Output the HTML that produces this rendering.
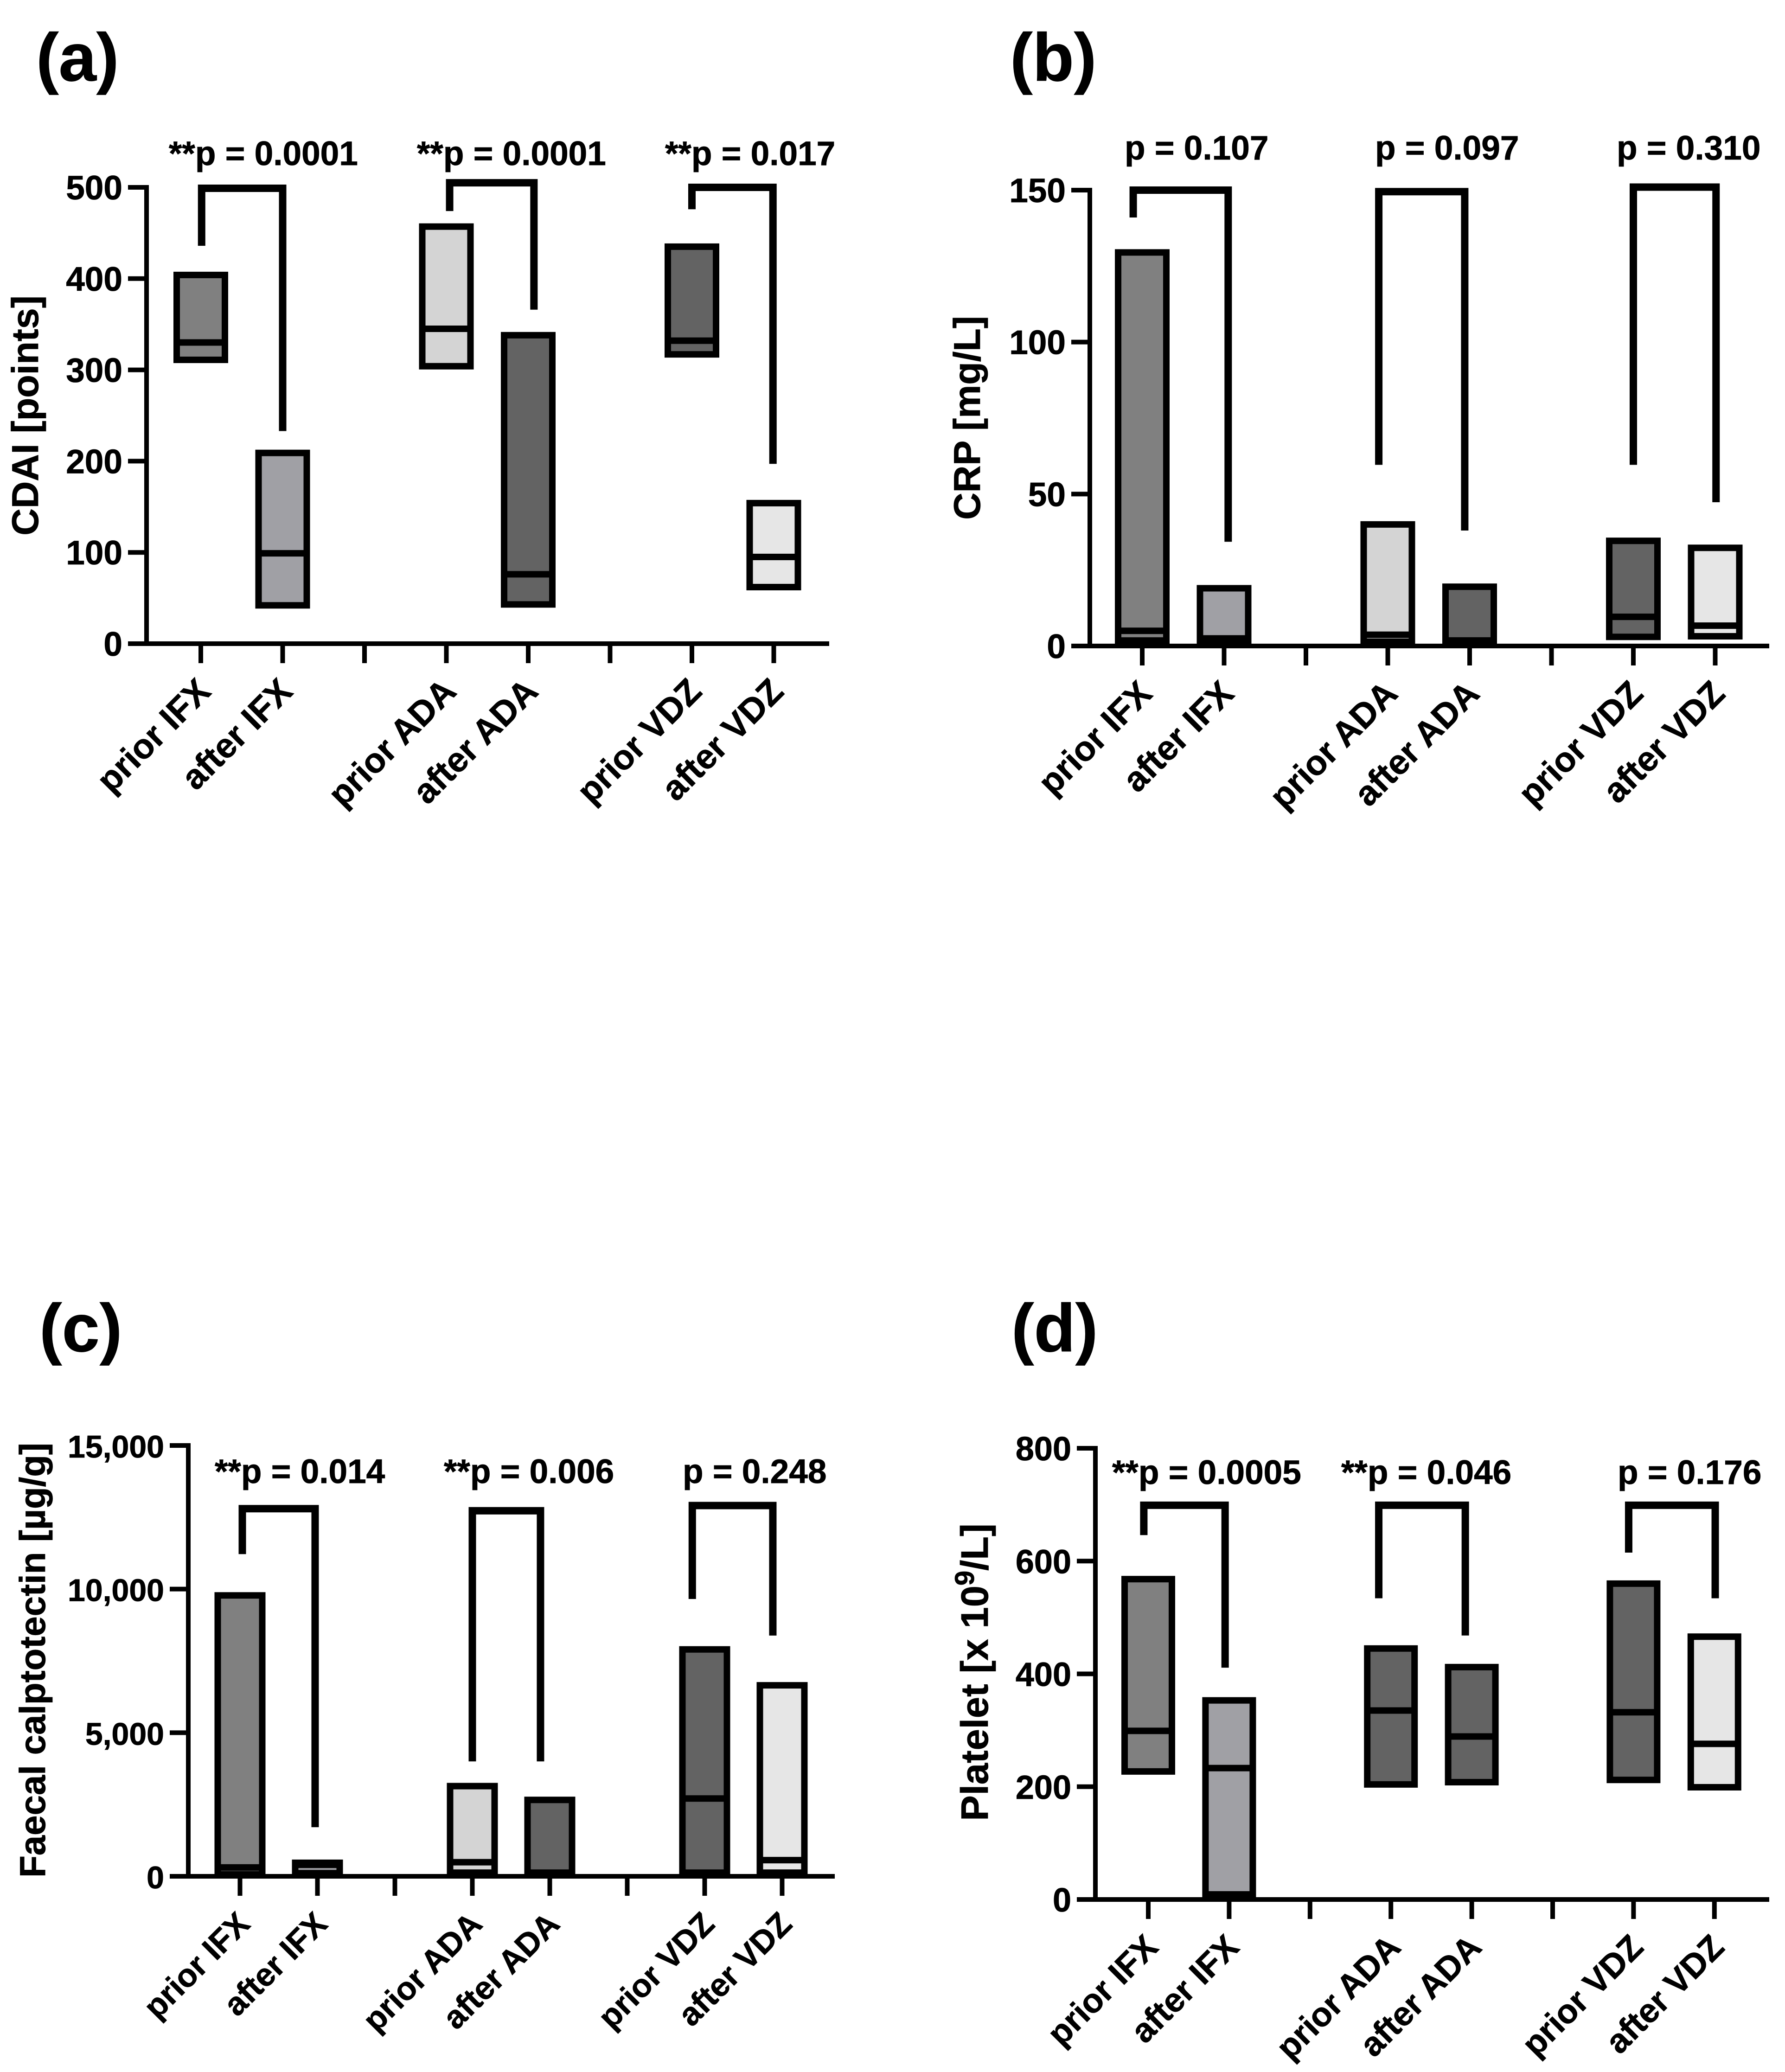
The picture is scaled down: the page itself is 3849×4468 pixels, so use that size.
<!DOCTYPE html>
<html lang="en">
<head>
<meta charset="utf-8">
<title>Clinical markers before and after biologic therapy</title>
<style>
html,body{margin:0;padding:0;background:#fff;}
svg{display:block;}
text{font-family:"Liberation Sans",Arial,sans-serif;font-weight:700;fill:#000;stroke:#000;stroke-width:0.8px;}
</style>
</head>
<body>
<svg id="figure" xmlns="http://www.w3.org/2000/svg" width="3849" height="4468" viewBox="0 0 3849 4468"></svg>
<script>
// Shared categories (index 2 and 5 are empty spacer ticks)
const categories = ['prior IFX', 'after IFX', '', 'prior ADA', 'after ADA', '', 'prior VDZ', 'after VDZ'];
const seriesSlots = [0, 1, 3, 4, 6, 7];

// Panel (a) CDAI
const cdaiMin = [311, 42, 304, 43, 317, 62];
const cdaiMedian = [330, 99, 345, 76, 332, 95];
const cdaiMax = [404, 209, 457, 338, 435, 154];
const cdaiTicks = [0, 100, 200, 300, 400, 500];
const cdaiTickLabels = ['0', '100', '200', '300', '400', '500'];
const cdaiBracketTop = [499, 505, 500];
const cdaiBracketLeftEnd = [436, 474, 476];
const cdaiBracketRightEnd = [233, 366, 197];
const cdaiPValues = ['**p = 0.0001', '**p = 0.0001', '**p = 0.017'];

// Panel (b) CRP
const crpMin = [1.8, 1.8, 1.4, 1.8, 3, 3.2];
const crpMedian = [5, 2.5, 3.7, 1.8, 9.6, 6.7];
const crpMax = [129.5, 19, 40, 19.5, 34.6, 32.3];
const crpTicks = [0, 50, 100, 150];
const crpTickLabels = ['0', '50', '100', '150'];
const crpBracketTop = [150, 149.5, 151];
const crpBracketLeftEnd = [141, 59.6, 59.6];
const crpBracketRightEnd = [34.3, 38, 47.3];
const crpPValues = ['p = 0.107', 'p = 0.097', 'p = 0.310'];

// Panel (c) Faecal calprotectin
const calMin = [70, 109, 127, 127, 127, 127];
const calMedian = [309, 400, 490, 109, 2709, 564];
const calMax = [9780, 470, 3140, 2660, 7900, 6650];
const calTicks = [0, 5000, 10000, 15000];
const calTickLabels = ['0', '5,000', '10,000', '15,000'];
const calBracketTop = [12800, 12727, 12909];
const calBracketLeftEnd = [11218, 4000, 9655];
const calBracketRightEnd = [1709, 4000, 8382];
const calPValues = ['**p = 0.014', '**p = 0.006', 'p = 0.248'];

// Panel (d) Platelet
const pltMin = [227, 9, 204, 208, 212, 199];
const pltMedian = [299, 233, 335, 289, 332, 276];
const pltMax = [568, 353, 445, 412, 560, 466];
const pltTicks = [0, 200, 400, 600, 800];
const pltTickLabels = ['0', '200', '400', '600', '800'];
const pltBracketTop = [699, 699, 699];
const pltBracketLeftEnd = [646, 534, 615];
const pltBracketRightEnd = [411, 468, 534];
const pltPValues = ['**p = 0.0005', '**p = 0.046', 'p = 0.176'];

const SVG_NS = 'http://www.w3.org/2000/svg';
const figure = document.getElementById('figure');

function make(tag, parent) {
  const el = document.createElementNS(SVG_NS, tag);
  parent.appendChild(el);
  return el;
}
function drawLine(parent, x1, y1, x2, y2, width) {
  const el = make('line', parent);
  el.setAttribute('x1', x1);
  el.setAttribute('y1', y1);
  el.setAttribute('x2', x2);
  el.setAttribute('y2', y2);
  el.setAttribute('stroke', '#000');
  el.setAttribute('stroke-width', width);
  return el;
}

function drawPanel(p) {
  const group = make('g', figure);
  
  

  const yScale = v => p.y0 - (v / p.yMax) * (p.y0 - p.yTop);
  const xScale = c => p.x0 + c * p.xStep;

  // Panel letter
  const letter = make('text', group);
  
  
  letter.setAttribute('x', p.letterX);
  letter.setAttribute('y', p.letterY);
  letter.setAttribute('font-size', 146);
  letter.textContent = '(' + p.id + ')';

  // Boxes
  seriesSlots.forEach((slot, i) => {
    const cx = xScale(slot);
    const top = yScale(p.max[i]);
    const bottom = yScale(p.min[i]);
    const box = make('rect', group);
    
    
    box.setAttribute('x', cx - p.boxW / 2);
    box.setAttribute('y', top);
    box.setAttribute('width', p.boxW);
    box.setAttribute('height', bottom - top);
    box.setAttribute('fill', p.fills[i]);
    box.setAttribute('stroke', '#000');
    box.setAttribute('stroke-width', 14);
    const med = drawLine(group, cx - p.boxW / 2, yScale(p.median[i]), cx + p.boxW / 2, yScale(p.median[i]), 14);
    
    
  });

  // Axes
  const yAxis = drawLine(group, p.axisX, p.yTop - 5, p.axisX, p.y0 + 5, 10);
  
  
  const xAxis = drawLine(group, p.axisX - 40, p.y0, p.axisEnd, p.y0, 10);
  
  

  // Y ticks
  p.ticks.forEach((t, i) => {
    const y = yScale(t);
    if (t !== 0) {
      const tick = drawLine(group, p.axisX - 40, y, p.axisX, y, 10);
      
      
    }
    const label = make('text', group);
    
    
    label.setAttribute('x', p.axisX - 52);
    label.setAttribute('y', y + 26);
    label.setAttribute('font-size', p.tickSize);
    label.setAttribute('text-anchor', 'end');
    label.textContent = p.tickLabels[i];
  });

  // X ticks and labels
  categories.forEach((name, c) => {
    const x = xScale(c);
    const tick = drawLine(group, x, p.y0, x, p.y0 + 42, 10);
    
    
    if (name) {
      const label = make('text', group);
      
      
      const lx = x + 25;
      const ly = p.y0 + 107;
      label.setAttribute('x', lx);
      label.setAttribute('y', ly);
      label.setAttribute('font-size', p.catSize);
      label.setAttribute('text-anchor', 'end');
      label.setAttribute('transform', 'rotate(-45 ' + lx + ' ' + ly + ')');
      label.textContent = name;
    }
  });

  // Y axis title
  const title = make('text', group);
  
  
  title.setAttribute('x', p.titleX);
  title.setAttribute('y', p.titleY);
  title.setAttribute('font-size', p.titleSize);
  title.setAttribute('text-anchor', 'middle');
  title.setAttribute('transform', 'rotate(-90 ' + p.titleX + ' ' + p.titleY + ')');
  p.title.forEach(part => {
    const span = make('tspan', title);
    span.textContent = part.t;
    if (part.sup) {
      span.setAttribute('font-size', p.titleSize * 0.7);
      span.setAttribute('dy', -p.titleSize * 0.36);
    } else if (part.after) {
      span.setAttribute('dy', p.titleSize * 0.36);
    }
  });

  // Significance brackets and p labels
  p.bracketTop.forEach((topVal, i) => {
    const left = xScale(p.bracketCats[i][0]);
    const right = xScale(p.bracketCats[i][1]);
    const bracket = make('polyline', group);
    
    
    bracket.setAttribute('points', [
      left + ',' + yScale(p.bracketLeft[i]),
      left + ',' + yScale(topVal),
      right + ',' + yScale(topVal),
      right + ',' + yScale(p.bracketRight[i])
    ].join(' '));
    bracket.setAttribute('fill', 'none');
    bracket.setAttribute('stroke', '#000');
    bracket.setAttribute('stroke-width', 16);
    bracket.setAttribute('stroke-linejoin', 'miter');

    const pLabel = make('text', group);
    
    
    pLabel.setAttribute('x', p.pX[i]);
    pLabel.setAttribute('y', p.pY);
    pLabel.setAttribute('font-size', 73);
    pLabel.textContent = p.pValues[i];
  });
}

const G1 = '#808080', G2 = '#a0a0a5', G3 = '#d4d4d4', G4 = '#636363', G5 = '#e6e6e6';

drawPanel({
  id: 'a', min: cdaiMin, median: cdaiMedian, max: cdaiMax,
  ticks: cdaiTicks, tickLabels: cdaiTickLabels, yMax: 500,
  fills: [G1, G2, G3, G4, G4, G5], tickSize: 73, catSize: 75,
  y0: 1388, yTop: 404, axisX: 316, axisEnd: 1788, x0: 433, xStep: 176.5, boxW: 104,
  letterX: 78, letterY: 174,
  title: [{t: 'CDAI [points]'}], titleX: 82, titleY: 896, titleSize: 81,
  bracketTop: cdaiBracketTop, bracketLeft: cdaiBracketLeftEnd, bracketRight: cdaiBracketRightEnd,
  bracketCats: [[0.01, 1.0], [3.04, 4.07], [6.0, 6.99]],
  pValues: cdaiPValues, pX: [364, 899, 1434], pY: 356
});

drawPanel({
  id: 'b', min: crpMin, median: crpMedian, max: crpMax,
  ticks: crpTicks, tickLabels: crpTickLabels, yMax: 150,
  fills: [G1, G2, G3, G4, G4, G5], tickSize: 73, catSize: 75,
  y0: 1393, yTop: 410, axisX: 2350, axisEnd: 3815, x0: 2463, xStep: 176.5, boxW: 104,
  letterX: 2178, letterY: 174,
  title: [{t: 'CRP [mg/L]'}], titleX: 2113, titleY: 901, titleSize: 81,
  bracketTop: crpBracketTop, bracketLeft: crpBracketLeftEnd, bracketRight: crpBracketRightEnd,
  bracketCats: [[-0.11, 1.05], [2.89, 3.94], [6.0, 7.01]],
  pValues: crpPValues, pX: [2425, 2965, 3486], pY: 344
});

drawPanel({
  id: 'c', min: calMin, median: calMedian, max: calMax,
  ticks: calTicks, tickLabels: calTickLabels, yMax: 15000,
  fills: [G1, G2, G3, G4, G4, G5], tickSize: 68, catSize: 70,
  y0: 4046, yTop: 3117, axisX: 406, axisEnd: 1800, x0: 517.5, xStep: 167, boxW: 96,
  letterX: 85, letterY: 2914,
  title: [{t: 'Faecal calptotectin [\u00b5g/g]'}], titleX: 97, titleY: 3580, titleSize: 78,
  bracketTop: calBracketTop, bracketLeft: calBracketLeftEnd, bracketRight: calBracketRightEnd,
  bracketCats: [[0.03, 0.97], [3.0, 3.88], [5.84, 6.88]],
  pValues: calPValues, pX: [463, 957, 1472], pY: 3198
});

drawPanel({
  id: 'd', min: pltMin, median: pltMedian, max: pltMax,
  ticks: pltTicks, tickLabels: pltTickLabels, yMax: 800,
  fills: [G1, G2, G4, G4, G4, G5], tickSize: 72, catSize: 73,
  y0: 4096, yTop: 3123, axisX: 2362, axisEnd: 3815, x0: 2476, xStep: 174.4, boxW: 102,
  letterX: 2181, letterY: 2914,
  title: [{t: 'Platelet [x 10'}, {t: '9', sup: true}, {t: '/L]', after: true}], titleX: 2130, titleY: 3606, titleSize: 83,
  bracketTop: pltBracketTop, bracketLeft: pltBracketLeftEnd, bracketRight: pltBracketRightEnd,
  bracketCats: [[-0.055, 0.95], [2.85, 3.92], [5.94, 7.01]],
  pValues: pltPValues, pX: [2398, 2892, 3488], pY: 3200
});
</script>
</body>
</html>
